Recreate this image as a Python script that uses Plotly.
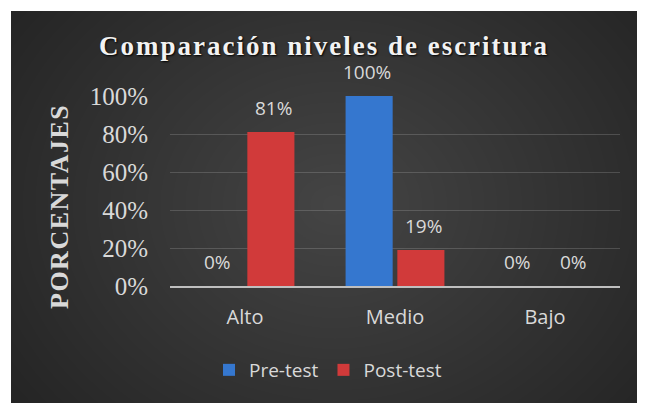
import plotly.graph_objects as go

categories = ["Alto", "Medio", "Bajo"]
pre_test = [0.0, 1.0, 0.0]
post_test = [0.81, 0.19, 0.0]
series_names = ["Pre-test", "Post-test"]
y_ticks = [0, 0.2, 0.4, 0.6, 0.8, 1.0]
y_tick_labels = ["0%", "20%", "40%", "60%", "80%", "100%"]

# page body adds an 8px offset; work in reference-pixel coordinates
OFF = 8
W, H = 645 - OFF, 403 - OFF
PLOT_X0, PLOT_X1, PLOT_Y0, PLOT_Y1 = 170, 620, 96, 286  # reference pixels
L = PLOT_X0 - OFF
R = W - (PLOT_X1 - OFF)
T = PLOT_Y0 - OFF
B = H - (PLOT_Y1 - OFF)
PW, PH = W - L - R, H - T - B

def px_x(x):
    return (x - PLOT_X0) / PW

def px_y(y):
    return (PLOT_Y1 - y) / PH

BLUE = "#3577cf"
RED = "#d13a3a"
LABEL = "#d9d9d9"
SANS = "Open Sans"
SERIF = "Liberation Serif"

fig = go.Figure()
fig.add_trace(go.Bar(x=categories, y=pre_test, name=series_names[0],
                     marker=dict(color=BLUE, line=dict(width=0))))
fig.add_trace(go.Bar(x=categories, y=post_test, name=series_names[1],
                     marker=dict(color=RED, line=dict(width=0))))

# data labels
annotations = []
offsets = [-28, 28]
for vals, dx in zip([pre_test, post_test], offsets):
    for c, v in zip(categories, vals):
        annotations.append(dict(x=c, y=v, xref="x", yref="y", text=f"{v:.0%}",
                                showarrow=False, xshift=dx, yshift=24, yanchor="middle",
                                font=dict(family=SANS, size=19, color=LABEL)))

# y axis title
annotations.append(dict(x=px_x(59), y=px_y(207), xref="paper", yref="paper",
                        text='<span style="letter-spacing:1.5px"><b>PORCENTAJES</b></span>',
                        textangle=-90, showarrow=False,
                        xanchor="center", yanchor="middle",
                        font=dict(family=SERIF, size=26, color=LABEL)))

# background: dark panel with radial glow
shapes = [
    dict(type="rect", xref="paper", yref="paper", layer="below",
         x0=px_x(11), x1=px_x(660), y0=px_y(11), y1=px_y(420),
         fillcolor="#242424", line=dict(width=0)),
]
N = 32
cx, cy = 335, 205
for i in range(N, 0, -1):
    rx = 400 * i / N
    ry = 330 * i / N
    shapes.append(dict(type="circle", xref="paper", yref="paper", layer="below",
                       x0=px_x(cx - rx), x1=px_x(cx + rx), y0=px_y(cy + ry), y1=px_y(cy - ry),
                       fillcolor="rgba(255,255,255,0.0092)", line=dict(width=0)))

fig.update_layout(
    width=W, height=H,
    margin=dict(l=L, r=R, t=T, b=B),
    paper_bgcolor="white",
    plot_bgcolor="rgba(0,0,0,0)",
    barmode="group", bargap=0.31, bargroupgap=0.09,
    title=dict(text='<span style="letter-spacing:2px"><b>Comparación niveles de escritura</b></span>',
               x=(324 - OFF) / W, xanchor="center", xref="container",
               y=1 - (46 - OFF) / H, yanchor="middle", yref="container",
               font=dict(family=SERIF, size=27, color="#f2f2f2", shadow="1px 1px 2px #000")),
    showlegend=True,
    legend=dict(orientation="h", xref="paper", yref="paper",
                x=px_x(328), xanchor="center", y=px_y(370), yanchor="middle",
                font=dict(family=SANS, size=19, color=LABEL),
                bgcolor="rgba(0,0,0,0)"),
    xaxis=dict(showgrid=False, showline=True, linecolor="#bfbfbf", linewidth=2,
               ticks="", ticklabelstandoff=12,
               tickfont=dict(family=SANS, size=20, color=LABEL)),
    yaxis=dict(range=[0, 1], tickvals=y_ticks, ticktext=y_tick_labels,
               showgrid=True, gridcolor="rgba(200,200,200,0.22)", gridwidth=1,
               zeroline=False, showline=False, ticks="", ticklabelstandoff=21,
               tickfont=dict(family=SERIF, size=25, color=LABEL)),
    annotations=annotations,
    shapes=shapes,
)
fig.update_traces(cliponaxis=False)

fig.write_html("out.html")
